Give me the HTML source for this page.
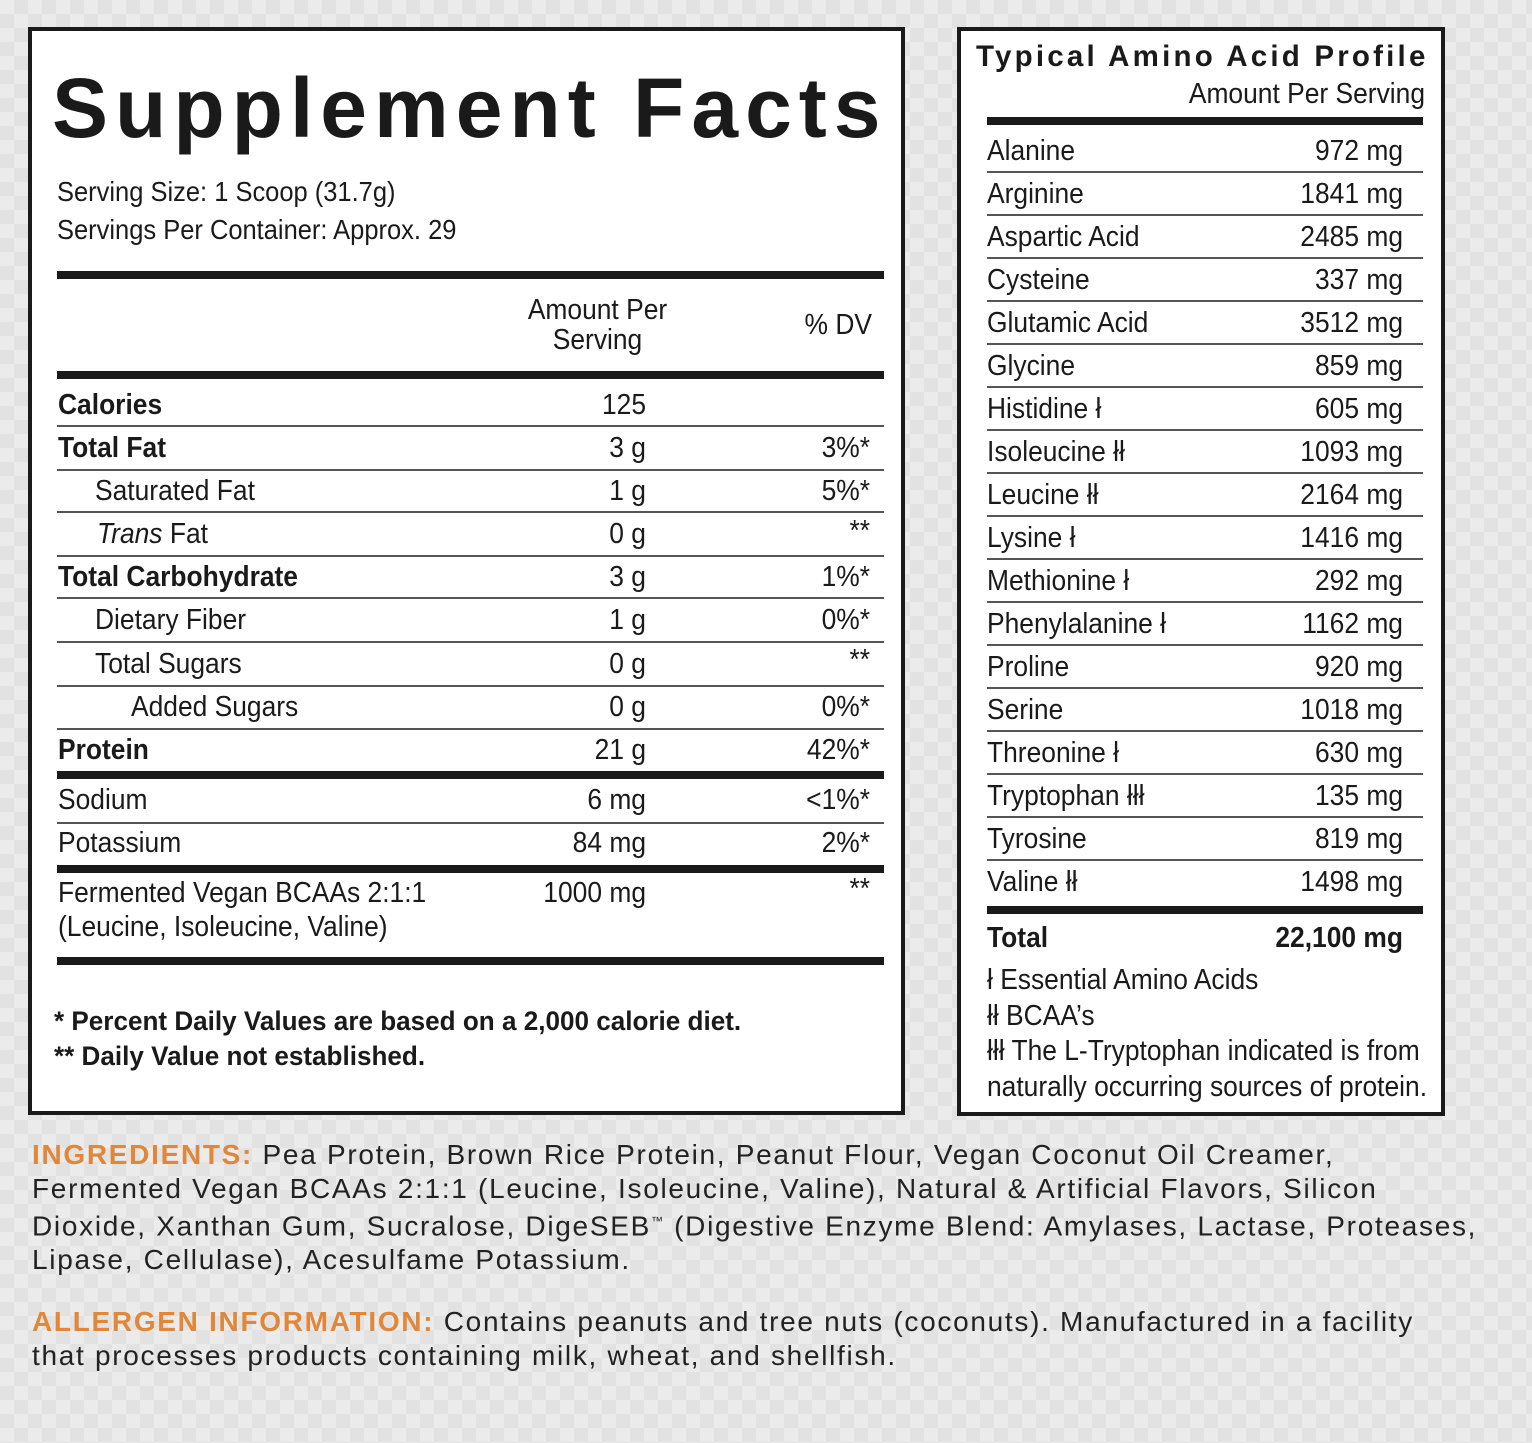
<!DOCTYPE html>
<html><head><meta charset="utf-8"><style>
*{margin:0;padding:0;box-sizing:border-box}
body{width:1532px;height:1443px;position:relative;overflow:hidden;background:#ebebeb;
background-image:linear-gradient(45deg,#e2e2e2 25%,transparent 25%,transparent 75%,#e2e2e2 75%),linear-gradient(45deg,#e2e2e2 25%,transparent 25%,transparent 75%,#e2e2e2 75%);
background-size:28px 28px;background-position:0 0,14px 14px;
font-family:"Liberation Sans",sans-serif;color:#1a1a1a}
.box{position:absolute;background:#fff;border:4px solid #1a1a1a}
.t{position:absolute;font-size:29px;line-height:34px;white-space:nowrap;transform:scaleX(0.91);transform-origin:left center}
.r{text-align:right;transform-origin:right center}
.b{font-weight:bold}
.ln{position:absolute;background:#555;height:2px}
.tk{position:absolute;background:#1a1a1a;height:8px}
.ing{position:absolute;left:32px;width:1490px;font-family:"Liberation Sans",sans-serif;font-size:28px;line-height:33.5px;color:#222;letter-spacing:1.7px;white-space:nowrap}
.or{color:#e0873a;font-weight:bold}
</style></head><body>
<div class="box" style="left:28px;top:27px;width:877px;height:1088px"></div>
<div class="box" style="left:957px;top:27px;width:488px;height:1089px"></div>

<div class="t b" style="left:52px;top:58px;font-size:84px;line-height:100px;letter-spacing:7px;transform:none">Supplement Facts</div>
<div class="t" style="left:57px;top:175px;font-size:28px">Serving Size: 1 Scoop (31.7g)</div>
<div class="t" style="left:57px;top:213px;font-size:28px">Servings Per Container: Approx. 29</div>
<div class="tk" style="left:57px;top:271px;width:827px"></div>
<div class="t" style="left:500px;top:295px;width:195px;text-align:center;line-height:30px;transform-origin:center">Amount Per<br>Serving</div>
<div class="t r" style="left:700px;top:308px;width:172px">% DV</div>
<div class="tk" style="left:57px;top:371px;width:827px"></div>

<div class="t b" style="left:58px;top:388px">Calories</div><div class="t r" style="left:446px;top:388px;width:200px">125</div>
<div class="ln" style="left:57px;top:425px;width:827px"></div>
<div class="t b" style="left:58px;top:431px">Total Fat</div><div class="t r" style="left:446px;top:431px;width:200px">3 g</div><div class="t r" style="left:700px;top:431px;width:170px">3%*</div>
<div class="ln" style="left:57px;top:469px;width:827px"></div>
<div class="t" style="left:95px;top:474px">Saturated Fat</div><div class="t r" style="left:446px;top:474px;width:200px">1 g</div><div class="t r" style="left:700px;top:474px;width:170px">5%*</div>
<div class="ln" style="left:57px;top:511px;width:827px"></div>
<div class="t" style="left:97px;top:517px"><i>Trans</i> Fat</div><div class="t r" style="left:446px;top:517px;width:200px">0 g</div><div class="t r" style="left:700px;top:514px;width:170px">**</div>
<div class="ln" style="left:57px;top:555px;width:827px"></div>
<div class="t b" style="left:58px;top:560px">Total Carbohydrate</div><div class="t r" style="left:446px;top:560px;width:200px">3 g</div><div class="t r" style="left:700px;top:560px;width:170px">1%*</div>
<div class="ln" style="left:57px;top:597px;width:827px"></div>
<div class="t" style="left:95px;top:603px">Dietary Fiber</div><div class="t r" style="left:446px;top:603px;width:200px">1 g</div><div class="t r" style="left:700px;top:603px;width:170px">0%*</div>
<div class="ln" style="left:57px;top:641px;width:827px"></div>
<div class="t" style="left:95px;top:647px">Total Sugars</div><div class="t r" style="left:446px;top:647px;width:200px">0 g</div><div class="t r" style="left:700px;top:643px;width:170px">**</div>
<div class="ln" style="left:57px;top:685px;width:827px"></div>
<div class="t" style="left:131px;top:690px">Added Sugars</div><div class="t r" style="left:446px;top:690px;width:200px">0 g</div><div class="t r" style="left:700px;top:690px;width:170px">0%*</div>
<div class="ln" style="left:57px;top:728px;width:827px"></div>
<div class="t b" style="left:58px;top:733px">Protein</div><div class="t r" style="left:446px;top:733px;width:200px">21 g</div><div class="t r" style="left:700px;top:733px;width:170px">42%*</div>
<div class="tk" style="left:57px;top:771px;width:827px"></div>
<div class="t" style="left:58px;top:783px">Sodium</div><div class="t r" style="left:446px;top:783px;width:200px">6 mg</div><div class="t r" style="left:700px;top:783px;width:170px">&lt;1%*</div>
<div class="ln" style="left:57px;top:822px;width:827px"></div>
<div class="t" style="left:58px;top:826px">Potassium</div><div class="t r" style="left:446px;top:826px;width:200px">84 mg</div><div class="t r" style="left:700px;top:826px;width:170px">2%*</div>
<div class="tk" style="left:57px;top:865px;width:827px"></div>
<div class="t" style="left:58px;top:876px">Fermented Vegan BCAAs 2:1:1</div>
<div class="t" style="left:58px;top:910px">(Leucine, Isoleucine, Valine)</div>
<div class="t r" style="left:446px;top:876px;width:200px">1000 mg</div><div class="t r" style="left:700px;top:872px;width:170px">**</div>
<div class="tk" style="left:57px;top:957px;width:827px"></div>
<div class="t b" style="left:54px;top:1004px;font-size:27px;transform:scaleX(0.966)">* Percent Daily Values are based on a 2,000 calorie diet.</div>
<div class="t b" style="left:54px;top:1039px;font-size:27px;transform:scaleX(0.966)">** Daily Value not established.</div>

<div class="t b" style="left:976px;top:40px;font-size:29.5px;letter-spacing:3.2px;transform:none">Typical Amino Acid Profile</div>
<div class="t r" style="left:1100px;top:77px;width:325px">Amount Per Serving</div>
<div class="tk" style="left:987px;top:117px;width:436px"></div>

<div id="am"></div>
<script>
var d=[["Alanine","972 mg"],["Arginine","1841 mg"],["Aspartic Acid","2485 mg"],["Cysteine","337 mg"],["Glutamic Acid","3512 mg"],["Glycine","859 mg"],["Histidine ł","605 mg"],["Isoleucine łł","1093 mg"],["Leucine łł","2164 mg"],["Lysine ł","1416 mg"],["Methionine ł","292 mg"],["Phenylalanine ł","1162 mg"],["Proline","920 mg"],["Serine","1018 mg"],["Threonine ł","630 mg"],["Tryptophan łłł","135 mg"],["Tyrosine","819 mg"],["Valine łł","1498 mg"]];
var h="";for(var i=0;i<d.length;i++){var c=151+i*43;
h+='<div class="t" style="left:987px;top:'+(c-17)+'px">'+d[i][0]+'</div><div class="t r" style="left:1203px;top:'+(c-17)+'px;width:200px">'+d[i][1]+'</div>';
if(i<d.length-1)h+='<div class="ln" style="left:987px;top:'+(c+20)+'px;width:436px"></div>';}
document.getElementById("am").outerHTML=h;
</script>
<div class="tk" style="left:987px;top:906px;width:436px"></div>
<div class="t b" style="left:987px;top:921px">Total</div><div class="t r b" style="left:1203px;top:921px;width:200px">22,100 mg</div>
<div class="t" style="left:987px;top:963px">ł Essential Amino Acids</div>
<div class="t" style="left:987px;top:999px">łł BCAA’s</div>
<div class="t" style="left:987px;top:1034px">łłł The L-Tryptophan indicated is from</div>
<div class="t" style="left:987px;top:1070px">naturally occurring sources of protein.</div>

<div class="ing" style="top:1138px"><span class="or">INGREDIENTS:</span> Pea Protein, Brown Rice Protein, Peanut Flour, Vegan Coconut Oil Creamer,<br>Fermented Vegan BCAAs 2:1:1 (Leucine, Isoleucine, Valine), Natural &amp; Artificial Flavors, Silicon<br>Dioxide, Xanthan Gum, Sucralose, DigeSEB<sup style="font-size:12px">™</sup> (Digestive Enzyme Blend: Amylases, Lactase, Proteases,<br>Lipase, Cellulase), Acesulfame Potassium.</div>
<div class="ing" style="top:1305px"><span class="or">ALLERGEN INFORMATION:</span> Contains peanuts and tree nuts (coconuts). Manufactured in a facility<br>that processes products containing milk, wheat, and shellfish.</div>
</body></html>
